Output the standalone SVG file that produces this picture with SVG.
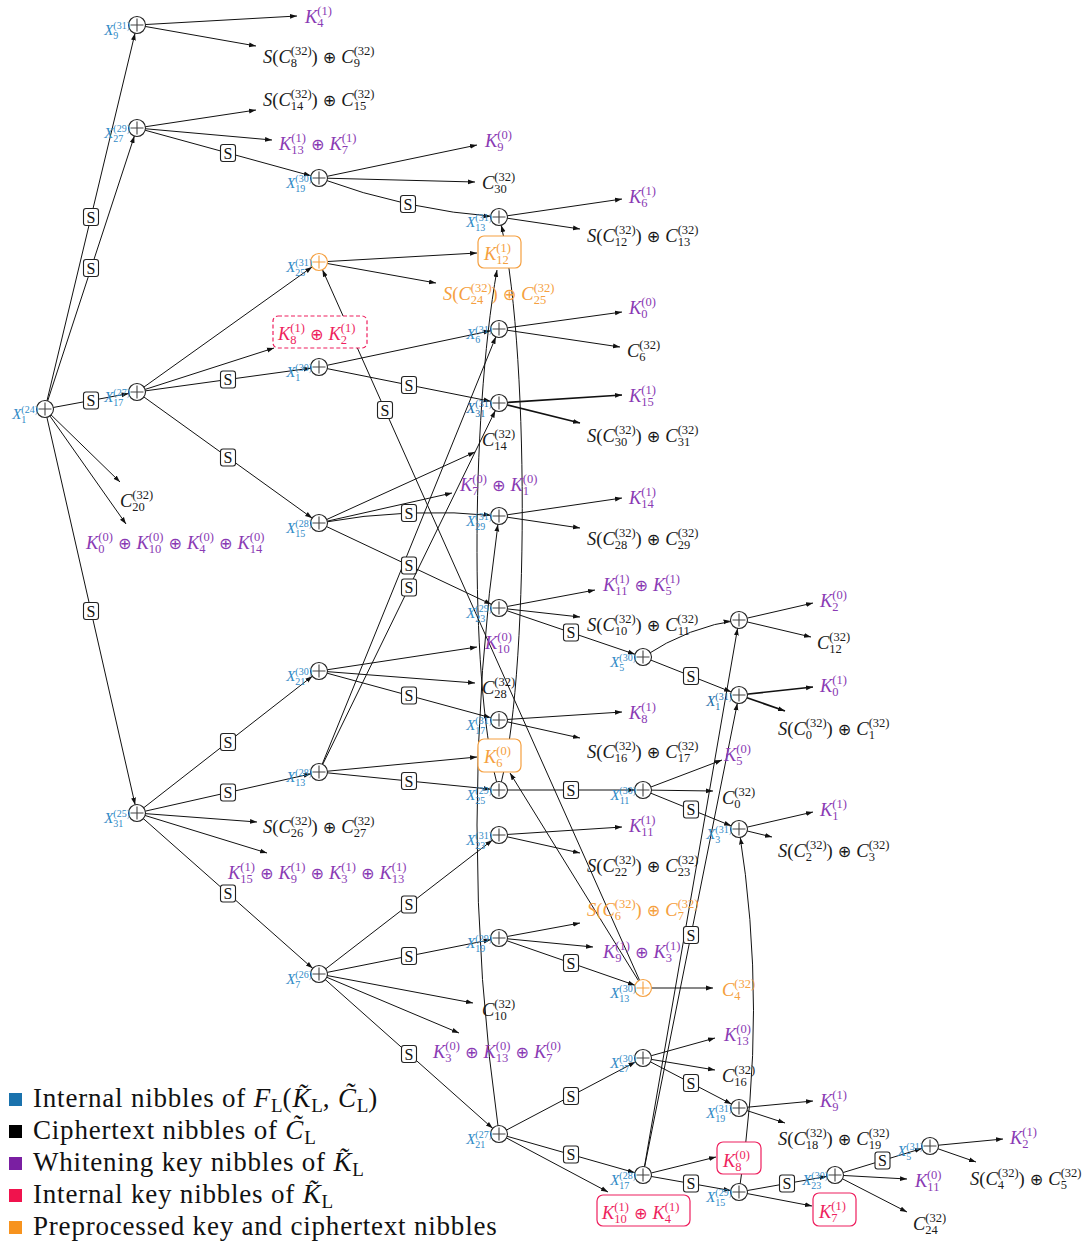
<svg xmlns="http://www.w3.org/2000/svg" width="1085" height="1244" viewBox="0 0 1085 1244">
<style>
.e{fill:none;stroke:#111;stroke-width:1}
.tk{stroke-width:1.7}
.a{marker-end:url(#ah)}
.n{marker-end:url(#an)}
.t{font-family:"Liberation Serif","DejaVu Serif",serif;font-size:18.5px;fill:#1a1a1a}
.i{font-style:italic}
.sc{font-size:12.5px;font-style:normal}
.op{font-family:"DejaVu Sans",sans-serif;font-size:16px;font-style:normal}
.p{fill:#8a3ab4}
.o{fill:#f5a040}
.r{fill:#ee1f5e}
.xl{font-family:"Liberation Serif","DejaVu Serif",serif;font-size:15px;font-style:italic;fill:#2f8ac6;text-anchor:end}
.dk{fill:#1c6ea8}
.xs{font-size:10px;font-style:normal}
.lg{font-family:"Liberation Serif","DejaVu Serif",serif;font-size:27px;letter-spacing:0.8px;fill:#111}
.ls{font-size:19px;font-style:normal;letter-spacing:0}
.kb{fill:#fff;stroke-width:1.2}
</style>
<defs>
<marker id="ah" markerUnits="userSpaceOnUse" markerWidth="10" markerHeight="8" viewBox="0 -4 10 8" refX="7" refY="0" orient="auto"><path d="M0,-2.4 L7,0 L0,2.4 z" fill="#111"/></marker>
<marker id="an" markerUnits="userSpaceOnUse" markerWidth="10" markerHeight="8" viewBox="0 -4 10 8" refX="15.5" refY="0" orient="auto"><path d="M0,-2.4 L7,0 L0,2.4 z" fill="#111"/></marker>
<g id="xor"><circle r="8.5" fill="#fff" stroke="#222" stroke-width="1.1"/><path d="M-6.5,0H6.5M0,-6.5V6.5" stroke="#444" stroke-width="1.1"/></g>
<g id="xoro"><circle r="8.5" fill="#fff" stroke="#f5a040" stroke-width="1.2"/><path d="M-6.5,0H6.5M0,-6.5V6.5" stroke="#f5a040" stroke-width="1.1"/></g>
<g id="sb"><rect x="-7.5" y="-8.5" width="15" height="17" rx="2.5" fill="#fff" stroke="#222" stroke-width="1.1"/><text y="5.5" text-anchor="middle" font-family="Liberation Serif, DejaVu Serif, serif" font-size="16" fill="#111">S</text></g>
</defs>

<!-- edges between nodes and towards leaves -->
<g id="connectors">
<path class="e n" d="M45,409 L137,25"/>
<path class="e n" d="M45,409 L137,128"/>
<path class="e n" d="M45,409 L137,392"/>
<path class="e n" d="M45,409 L137,813"/>
<path class="e a" d="M45,409 L120,482"/>
<path class="e a" d="M45,409 L126,524"/>
<path class="e a" d="M137,25 L297,16"/>
<path class="e a" d="M137,25 L256,46"/>
<path class="e a" d="M137,128 L256,110"/>
<path class="e a" d="M137,128 L272,140"/>
<path class="e n" d="M137,128 L319,178"/>
<path class="e n" d="M137,392 L319,262"/>
<path class="e a" d="M137,392 L274,348"/>
<path class="e n" d="M137,392 L319,367"/>
<path class="e n" d="M137,392 L319,523"/>
<path class="e n" d="M137,813 L319,671"/>
<path class="e n" d="M137,813 L319,772"/>
<path class="e a" d="M137,813 L257,822"/>
<path class="e a" d="M137,813 L267,853"/>
<path class="e n" d="M137,813 L319,974"/>
<path class="e a" d="M319,178 L477,145"/>
<path class="e a" d="M319,178 L475,182"/>
<path class="e n" d="M319,178 Q407,210.5 499,217"/>
<path class="e a" d="M319,262 L477,253"/>
<path class="e a" d="M319,262 L436,283"/>
<path class="e n" d="M319,367 L499,329"/>
<path class="e n" d="M319,367 L499,403"/>
<path class="e a" d="M319,523 L475,452"/>
<path class="e a" d="M319,523 L452,493"/>
<path class="e n" d="M319,523 Q409,506.5 499,516"/>
<path class="e n" d="M319,523 L499,608"/>
<path class="e a" d="M319,671 L477,647"/>
<path class="e a" d="M319,671 L475,683"/>
<path class="e n" d="M319,671 L499,720"/>
<path class="e n" d="M319,772 L499,329"/>
<path class="e n" d="M319,772 L499,403"/>
<path class="e a" d="M319,772 L477,757"/>
<path class="e n" d="M319,772 L499,790"/>
<path class="e n" d="M319,974 L499,835"/>
<path class="e n" d="M319,974 L499,938"/>
<path class="e a" d="M319,974 L473,1003"/>
<path class="e a" d="M319,974 L459,1033"/>
<path class="e n" d="M319,974 L499,1134"/>
<path class="e a" d="M499,217 L622,199"/>
<path class="e a" d="M499,217 L580,229"/>
<path class="e a" d="M499,329 L622,312"/>
<path class="e a" d="M499,329 L620,347"/>
<path class="e a tk" d="M499,403 L622,395"/>
<path class="e a tk" d="M499,403 L580,423"/>
<path class="e a" d="M499,516 L622,498"/>
<path class="e a" d="M499,516 L580,528"/>
<path class="e a" d="M499,608 L595,590"/>
<path class="e a" d="M499,608 L580,617"/>
<path class="e n" d="M499,608 L643,657"/>
<path class="e a" d="M499,720 L622,712"/>
<path class="e a" d="M499,720 L580,738"/>
<path class="e n" d="M499,790 L643,790"/>
<path class="e a" d="M499,790 C470,700 470,420 497,270"/>
<path class="e n" d="M499,790 C530,690 530,330 499,217"/>
<path class="e a" d="M499,835 L622,827"/>
<path class="e a" d="M499,835 L580,853"/>
<path class="e a" d="M499,938 L580,923"/>
<path class="e a" d="M499,938 L593,947"/>
<path class="e n" d="M499,938 L643,988"/>
<path class="e n" d="M499,1134 L643,1058"/>
<path class="e n" d="M499,1134 L643,1175"/>
<path class="e a" d="M499,1134 L608,1192"/>
<path class="e n" d="M499,1134 Q455,825 499,516"/>
<path class="e n" d="M643,657 Q690,626 739,620"/>
<path class="e n" d="M643,657 L739,695"/>
<path class="e a" d="M643,790 L722,760"/>
<path class="e a" d="M643,790 L713,791"/>
<path class="e n" d="M643,790 L739,829"/>
<path class="e a" d="M643,988 L713,988"/>
<path class="e n" d="M643,988 L319,262"/>
<path class="e a" d="M643,988 L510,773"/>
<path class="e a" d="M643,1058 L715,1038"/>
<path class="e a" d="M643,1058 L715,1070"/>
<path class="e n" d="M643,1058 L739,1108"/>
<path class="e a" d="M643,1175 L716,1157"/>
<path class="e n" d="M643,1175 L739,1192"/>
<path class="e n" d="M643,1175 L739,620"/>
<path class="e n" d="M643,1175 L739,695"/>
<path class="e a" d="M739,620 L813,603"/>
<path class="e a" d="M739,620 L811,637"/>
<path class="e a tk" d="M739,695 L813,687"/>
<path class="e a tk" d="M739,695 L785,711"/>
<path class="e a" d="M739,829 L813,812"/>
<path class="e a" d="M739,829 L772,837"/>
<path class="e a" d="M739,1108 L813,1101"/>
<path class="e a" d="M739,1108 L785,1123"/>
<path class="e a" d="M739,1192 L812,1206"/>
<path class="e n" d="M739,1192 L835,1175"/>
<path class="e n" d="M739,1192 Q768,1010 739,829"/>
<path class="e n" d="M835,1175 L930,1146"/>
<path class="e a" d="M835,1175 L907,1179"/>
<path class="e a" d="M835,1175 L907,1212"/>
<path class="e a" d="M930,1146 L1003,1139"/>
<path class="e a" d="M930,1146 L976,1162"/>
</g>

<!-- S-box applications sitting on edges -->
<g id="sboxes">
<use href="#sb" x="91" y="217"/><use href="#sb" x="91" y="268"/><use href="#sb" x="91" y="400.5"/><use href="#sb" x="91" y="611"/>
<use href="#sb" x="228" y="153"/><use href="#sb" x="228" y="379.5"/><use href="#sb" x="228" y="457.5"/>
<use href="#sb" x="228" y="742"/><use href="#sb" x="228" y="792.5"/><use href="#sb" x="228" y="893.5"/>
<use href="#sb" x="408" y="204"/><use href="#sb" x="385" y="410"/><use href="#sb" x="409" y="385"/>
<use href="#sb" x="409" y="513"/><use href="#sb" x="409" y="565.5"/><use href="#sb" x="409" y="587.5"/>
<use href="#sb" x="409" y="695.5"/><use href="#sb" x="409" y="781"/><use href="#sb" x="409" y="904.5"/>
<use href="#sb" x="409" y="956"/><use href="#sb" x="409" y="1054"/>
<use href="#sb" x="571" y="632.5"/><use href="#sb" x="571" y="790"/><use href="#sb" x="571" y="963"/>
<use href="#sb" x="571" y="1096"/><use href="#sb" x="571" y="1154.5"/>
<use href="#sb" x="691" y="676"/><use href="#sb" x="691" y="809.5"/><use href="#sb" x="691" y="935"/>
<use href="#sb" x="691" y="1083"/><use href="#sb" x="691" y="1183.5"/>
<use href="#sb" x="787" y="1183.5"/><use href="#sb" x="882.5" y="1160.5"/>
</g>

<!-- XOR nodes -->
<g id="n-x1-24"><use href="#xor" x="45" y="409"/><text class="xl" x="38" y="419">X<tspan class="xs" dy="3.5">1</tspan><tspan class="xs" dx="-5" dy="-9.5">(24)</tspan></text></g>
<g id="n-x9-31"><use href="#xor" x="137" y="25"/><text class="xl" x="130" y="35">X<tspan class="xs" dy="3.5">9</tspan><tspan class="xs" dx="-5" dy="-9.5">(31)</tspan></text></g>
<g id="n-x27-29"><use href="#xor" x="137" y="128"/><text class="xl" x="130" y="138">X<tspan class="xs" dy="3.5">27</tspan><tspan class="xs" dx="-10" dy="-9.5">(29)</tspan></text></g>
<g id="n-x17-27"><use href="#xor" x="137" y="392"/><text class="xl" x="130" y="402">X<tspan class="xs" dy="3.5">17</tspan><tspan class="xs" dx="-10" dy="-9.5">(27)</tspan></text></g>
<g id="n-x31-25"><use href="#xor" x="137" y="813"/><text class="xl" x="130" y="823">X<tspan class="xs" dy="3.5">31</tspan><tspan class="xs" dx="-10" dy="-9.5">(25)</tspan></text></g>
<g id="n-x19-30"><use href="#xor" x="319" y="178"/><text class="xl" x="312" y="188">X<tspan class="xs" dy="3.5">19</tspan><tspan class="xs" dx="-10" dy="-9.5">(30)</tspan></text></g>
<g id="n-x25-31"><use href="#xoro" x="319" y="262"/><text class="xl" x="312" y="272">X<tspan class="xs" dy="3.5">25</tspan><tspan class="xs" dx="-10" dy="-9.5">(31)</tspan></text></g>
<g id="n-x1-30"><use href="#xor" x="319" y="367"/><text class="xl" x="312" y="377">X<tspan class="xs" dy="3.5">1</tspan><tspan class="xs" dx="-5" dy="-9.5">(30)</tspan></text></g>
<g id="n-x15-28"><use href="#xor" x="319" y="523"/><text class="xl" x="312" y="533">X<tspan class="xs" dy="3.5">15</tspan><tspan class="xs" dx="-10" dy="-9.5">(28)</tspan></text></g>
<g id="n-x21-30"><use href="#xor" x="319" y="671"/><text class="xl" x="312" y="681">X<tspan class="xs" dy="3.5">21</tspan><tspan class="xs" dx="-10" dy="-9.5">(30)</tspan></text></g>
<g id="n-x13-28"><use href="#xor" x="319" y="772"/><text class="xl" x="312" y="782">X<tspan class="xs" dy="3.5">13</tspan><tspan class="xs" dx="-10" dy="-9.5">(28)</tspan></text></g>
<g id="n-x7-26"><use href="#xor" x="319" y="974"/><text class="xl" x="312" y="984">X<tspan class="xs" dy="3.5">7</tspan><tspan class="xs" dx="-5" dy="-9.5">(26)</tspan></text></g>
<g id="n-x13-31"><use href="#xor" x="499" y="217"/><text class="xl" x="492" y="227">X<tspan class="xs" dy="3.5">13</tspan><tspan class="xs" dx="-10" dy="-9.5">(31)</tspan></text></g>
<g id="n-x6-31"><use href="#xor" x="499" y="329"/><text class="xl" x="492" y="339">X<tspan class="xs" dy="3.5">6</tspan><tspan class="xs" dx="-5" dy="-9.5">(31)</tspan></text></g>
<g id="n-x31-31"><use href="#xor" x="499" y="403"/><text class="xl dk" x="492" y="413">X<tspan class="xs" dy="3.5">31</tspan><tspan class="xs" dx="-10" dy="-9.5">(31)</tspan></text></g>
<g id="n-x29-31"><use href="#xor" x="499" y="516"/><text class="xl" x="492" y="526">X<tspan class="xs" dy="3.5">29</tspan><tspan class="xs" dx="-10" dy="-9.5">(31)</tspan></text></g>
<g id="n-x23-29"><use href="#xor" x="499" y="608"/><text class="xl" x="492" y="618">X<tspan class="xs" dy="3.5">23</tspan><tspan class="xs" dx="-10" dy="-9.5">(29)</tspan></text></g>
<g id="n-x17-31"><use href="#xor" x="499" y="720"/><text class="xl" x="492" y="730">X<tspan class="xs" dy="3.5">17</tspan><tspan class="xs" dx="-10" dy="-9.5">(31)</tspan></text></g>
<g id="n-x25-29"><use href="#xor" x="499" y="790"/><text class="xl" x="492" y="800">X<tspan class="xs" dy="3.5">25</tspan><tspan class="xs" dx="-10" dy="-9.5">(29)</tspan></text></g>
<g id="n-x23-31"><use href="#xor" x="499" y="835"/><text class="xl" x="492" y="845">X<tspan class="xs" dy="3.5">23</tspan><tspan class="xs" dx="-10" dy="-9.5">(31)</tspan></text></g>
<g id="n-x19-29"><use href="#xor" x="499" y="938"/><text class="xl" x="492" y="948">X<tspan class="xs" dy="3.5">19</tspan><tspan class="xs" dx="-10" dy="-9.5">(29)</tspan></text></g>
<g id="n-x21-27"><use href="#xor" x="499" y="1134"/><text class="xl" x="492" y="1144">X<tspan class="xs" dy="3.5">21</tspan><tspan class="xs" dx="-10" dy="-9.5">(27)</tspan></text></g>
<g id="n-x5-30"><use href="#xor" x="643" y="657"/><text class="xl" x="636" y="667">X<tspan class="xs" dy="3.5">5</tspan><tspan class="xs" dx="-5" dy="-9.5">(30)</tspan></text></g>
<g id="n-x11-30"><use href="#xor" x="643" y="790"/><text class="xl" x="636" y="800">X<tspan class="xs" dy="3.5">11</tspan><tspan class="xs" dx="-10" dy="-9.5">(30)</tspan></text></g>
<g id="n-x13-30"><use href="#xoro" x="643" y="988"/><text class="xl" x="636" y="998">X<tspan class="xs" dy="3.5">13</tspan><tspan class="xs" dx="-10" dy="-9.5">(30)</tspan></text></g>
<g id="n-x27-30"><use href="#xor" x="643" y="1058"/><text class="xl" x="636" y="1068">X<tspan class="xs" dy="3.5">27</tspan><tspan class="xs" dx="-10" dy="-9.5">(30)</tspan></text></g>
<g id="n-x17-28"><use href="#xor" x="643" y="1175"/><text class="xl" x="636" y="1185">X<tspan class="xs" dy="3.5">17</tspan><tspan class="xs" dx="-10" dy="-9.5">(28)</tspan></text></g>
<g id="n-x12-31"><use href="#xor" x="739" y="620"/></g>
<g id="n-x1-31"><use href="#xor" x="739" y="695"/><text class="xl dk" x="732" y="706">X<tspan class="xs" dy="3.5">1</tspan><tspan class="xs" dx="-5" dy="-9.5">(31)</tspan></text></g>
<g id="n-x3-31"><use href="#xor" x="739" y="829"/><text class="xl" x="732" y="839">X<tspan class="xs" dy="3.5">3</tspan><tspan class="xs" dx="-5" dy="-9.5">(31)</tspan></text></g>
<g id="n-x19-31"><use href="#xor" x="739" y="1108"/><text class="xl" x="732" y="1118">X<tspan class="xs" dy="3.5">19</tspan><tspan class="xs" dx="-10" dy="-9.5">(31)</tspan></text></g>
<g id="n-x15-29"><use href="#xor" x="739" y="1192"/><text class="xl" x="732" y="1202">X<tspan class="xs" dy="3.5">15</tspan><tspan class="xs" dx="-10" dy="-9.5">(29)</tspan></text></g>
<g id="n-x23-30"><use href="#xor" x="835" y="1175"/><text class="xl" x="828" y="1185">X<tspan class="xs" dy="3.5">23</tspan><tspan class="xs" dx="-10" dy="-9.5">(30)</tspan></text></g>
<g id="n-x5-31"><use href="#xor" x="930" y="1146"/><text class="xl" x="923" y="1156">X<tspan class="xs" dy="3.5">5</tspan><tspan class="xs" dx="-5" dy="-9.5">(31)</tspan></text></g>

<!-- key boxes -->
<g id="k-k12-1"><rect class="kb" x="478" y="236" width="43" height="32" rx="6" stroke="#f5a040"/><text class="t o" x="484" y="260"><tspan class="i">K</tspan><tspan class="sc" dy="4">12</tspan><tspan class="sc" dx="-12.5" dy="-12">(1)</tspan></text></g>
<g id="k-k6-0"><rect class="kb" x="478" y="739" width="43" height="33" rx="6" stroke="#f5a040"/><text class="t o" x="484" y="763"><tspan class="i">K</tspan><tspan class="sc" dy="4">6</tspan><tspan class="sc" dx="-6.25" dy="-12">(0)</tspan></text></g>
<g id="k-k8k2-1"><rect class="kb" x="273" y="316" width="94" height="32" rx="5" stroke="#ee1f5e" stroke-dasharray="4 2.5"/><text class="t r" x="278" y="340"><tspan class="i">K</tspan><tspan class="sc" dy="4">8</tspan><tspan class="sc" dx="-6.25" dy="-12">(1)</tspan><tspan class="op" dy="8"> ⊕ </tspan><tspan class="i">K</tspan><tspan class="sc" dy="4">2</tspan><tspan class="sc" dx="-6.25" dy="-12">(1)</tspan></text></g>
<g id="k-k8-0"><rect class="kb" x="717" y="1142" width="44" height="32" rx="6" stroke="#ee1f5e"/><text class="t r" x="723" y="1167"><tspan class="i">K</tspan><tspan class="sc" dy="4">8</tspan><tspan class="sc" dx="-6.25" dy="-12">(0)</tspan></text></g>
<g id="k-k7-1"><rect class="kb" x="813" y="1193" width="43" height="33" rx="6" stroke="#ee1f5e"/><text class="t r" x="819" y="1218"><tspan class="i">K</tspan><tspan class="sc" dy="4">7</tspan><tspan class="sc" dx="-6.25" dy="-12">(1)</tspan></text></g>
<g id="k-k10k4-1"><rect class="kb" x="597" y="1195" width="93" height="31" rx="6" stroke="#ee1f5e"/><text class="t r" x="602" y="1219"><tspan class="i">K</tspan><tspan class="sc" dy="4">10</tspan><tspan class="sc" dx="-12.5" dy="-12">(1)</tspan><tspan class="op" dy="8"> ⊕ </tspan><tspan class="i">K</tspan><tspan class="sc" dy="4">4</tspan><tspan class="sc" dx="-6.25" dy="-12">(1)</tspan></text></g>

<!-- leaf values: ciphertext and whitening key nibbles -->
<g id="leaves">
<text id="lf-k4-1" class="t p" x="305" y="23"><tspan class="i">K</tspan><tspan class="sc" dy="4">4</tspan><tspan class="sc" dx="-6.25" dy="-12">(1)</tspan></text>
<text id="lf-sc8" class="t" x="263" y="63"><tspan class="i">S</tspan>(<tspan class="i">C</tspan><tspan class="sc" dy="4">8</tspan><tspan class="sc" dx="-6.25" dy="-12">(32)</tspan><tspan dy="8">)</tspan><tspan class="op"> ⊕ </tspan><tspan class="i">C</tspan><tspan class="sc" dy="4">9</tspan><tspan class="sc" dx="-6.25" dy="-12">(32)</tspan></text>
<text id="lf-sc14" class="t" x="263" y="106"><tspan class="i">S</tspan>(<tspan class="i">C</tspan><tspan class="sc" dy="4">14</tspan><tspan class="sc" dx="-12.5" dy="-12">(32)</tspan><tspan dy="8">)</tspan><tspan class="op"> ⊕ </tspan><tspan class="i">C</tspan><tspan class="sc" dy="4">15</tspan><tspan class="sc" dx="-12.5" dy="-12">(32)</tspan></text>
<text id="lf-k13k7-1" class="t p" x="279" y="150"><tspan class="i">K</tspan><tspan class="sc" dy="4">13</tspan><tspan class="sc" dx="-12.5" dy="-12">(1)</tspan><tspan class="op" dy="8"> ⊕ </tspan><tspan class="i">K</tspan><tspan class="sc" dy="4">7</tspan><tspan class="sc" dx="-6.25" dy="-12">(1)</tspan></text>
<text id="lf-k9-0" class="t p" x="485" y="147"><tspan class="i">K</tspan><tspan class="sc" dy="4">9</tspan><tspan class="sc" dx="-6.25" dy="-12">(0)</tspan></text>
<text id="lf-c30" class="t" x="482" y="189"><tspan class="i">C</tspan><tspan class="sc" dy="4">30</tspan><tspan class="sc" dx="-12.5" dy="-12">(32)</tspan></text>
<text id="lf-k6-1" class="t p" x="629" y="203"><tspan class="i">K</tspan><tspan class="sc" dy="4">6</tspan><tspan class="sc" dx="-6.25" dy="-12">(1)</tspan></text>
<text id="lf-sc12" class="t" x="587" y="242"><tspan class="i">S</tspan>(<tspan class="i">C</tspan><tspan class="sc" dy="4">12</tspan><tspan class="sc" dx="-12.5" dy="-12">(32)</tspan><tspan dy="8">)</tspan><tspan class="op"> ⊕ </tspan><tspan class="i">C</tspan><tspan class="sc" dy="4">13</tspan><tspan class="sc" dx="-12.5" dy="-12">(32)</tspan></text>
<text id="lf-sc24" class="t o" x="443" y="300"><tspan class="i">S</tspan>(<tspan class="i">C</tspan><tspan class="sc" dy="4">24</tspan><tspan class="sc" dx="-12.5" dy="-12">(32)</tspan><tspan dy="8">)</tspan><tspan class="op"> ⊕ </tspan><tspan class="i">C</tspan><tspan class="sc" dy="4">25</tspan><tspan class="sc" dx="-12.5" dy="-12">(32)</tspan></text>
<text id="lf-k0-0" class="t p" x="629" y="314"><tspan class="i">K</tspan><tspan class="sc" dy="4">0</tspan><tspan class="sc" dx="-6.25" dy="-12">(0)</tspan></text>
<text id="lf-c6" class="t" x="627" y="357"><tspan class="i">C</tspan><tspan class="sc" dy="4">6</tspan><tspan class="sc" dx="-6.25" dy="-12">(32)</tspan></text>
<text id="lf-k15-1" class="t p" x="629" y="402"><tspan class="i">K</tspan><tspan class="sc" dy="4">15</tspan><tspan class="sc" dx="-12.5" dy="-12">(1)</tspan></text>
<text id="lf-sc30" class="t" x="587" y="442"><tspan class="i">S</tspan>(<tspan class="i">C</tspan><tspan class="sc" dy="4">30</tspan><tspan class="sc" dx="-12.5" dy="-12">(32)</tspan><tspan dy="8">)</tspan><tspan class="op"> ⊕ </tspan><tspan class="i">C</tspan><tspan class="sc" dy="4">31</tspan><tspan class="sc" dx="-12.5" dy="-12">(32)</tspan></text>
<text id="lf-c14" class="t" x="482" y="446"><tspan class="i">C</tspan><tspan class="sc" dy="4">14</tspan><tspan class="sc" dx="-12.5" dy="-12">(32)</tspan></text>
<text id="lf-k7k1-0" class="t p" x="460" y="491"><tspan class="i">K</tspan><tspan class="sc" dy="4">7</tspan><tspan class="sc" dx="-6.25" dy="-12">(0)</tspan><tspan class="op" dy="8"> ⊕ </tspan><tspan class="i">K</tspan><tspan class="sc" dy="4">1</tspan><tspan class="sc" dx="-6.25" dy="-12">(0)</tspan></text>
<text id="lf-k14-1" class="t p" x="629" y="504"><tspan class="i">K</tspan><tspan class="sc" dy="4">14</tspan><tspan class="sc" dx="-12.5" dy="-12">(1)</tspan></text>
<text id="lf-sc28" class="t" x="587" y="545"><tspan class="i">S</tspan>(<tspan class="i">C</tspan><tspan class="sc" dy="4">28</tspan><tspan class="sc" dx="-12.5" dy="-12">(32)</tspan><tspan dy="8">)</tspan><tspan class="op"> ⊕ </tspan><tspan class="i">C</tspan><tspan class="sc" dy="4">29</tspan><tspan class="sc" dx="-12.5" dy="-12">(32)</tspan></text>
<text id="lf-k11k5-1" class="t p" x="603" y="591"><tspan class="i">K</tspan><tspan class="sc" dy="4">11</tspan><tspan class="sc" dx="-12.5" dy="-12">(1)</tspan><tspan class="op" dy="8"> ⊕ </tspan><tspan class="i">K</tspan><tspan class="sc" dy="4">5</tspan><tspan class="sc" dx="-6.25" dy="-12">(1)</tspan></text>
<text id="lf-sc10" class="t" x="587" y="631"><tspan class="i">S</tspan>(<tspan class="i">C</tspan><tspan class="sc" dy="4">10</tspan><tspan class="sc" dx="-12.5" dy="-12">(32)</tspan><tspan dy="8">)</tspan><tspan class="op"> ⊕ </tspan><tspan class="i">C</tspan><tspan class="sc" dy="4">11</tspan><tspan class="sc" dx="-12.5" dy="-12">(32)</tspan></text>
<text id="lf-k2-0" class="t p" x="820" y="607"><tspan class="i">K</tspan><tspan class="sc" dy="4">2</tspan><tspan class="sc" dx="-6.25" dy="-12">(0)</tspan></text>
<text id="lf-c12" class="t" x="817" y="649"><tspan class="i">C</tspan><tspan class="sc" dy="4">12</tspan><tspan class="sc" dx="-12.5" dy="-12">(32)</tspan></text>
<text id="lf-k0-1" class="t p" x="820" y="692"><tspan class="i">K</tspan><tspan class="sc" dy="4">0</tspan><tspan class="sc" dx="-6.25" dy="-12">(1)</tspan></text>
<text id="lf-sc0" class="t" x="778" y="735"><tspan class="i">S</tspan>(<tspan class="i">C</tspan><tspan class="sc" dy="4">0</tspan><tspan class="sc" dx="-6.25" dy="-12">(32)</tspan><tspan dy="8">)</tspan><tspan class="op"> ⊕ </tspan><tspan class="i">C</tspan><tspan class="sc" dy="4">1</tspan><tspan class="sc" dx="-6.25" dy="-12">(32)</tspan></text>
<text id="lf-k5-0" class="t p" x="724" y="761"><tspan class="i">K</tspan><tspan class="sc" dy="4">5</tspan><tspan class="sc" dx="-6.25" dy="-12">(0)</tspan></text>
<text id="lf-c0" class="t" x="722" y="804"><tspan class="i">C</tspan><tspan class="sc" dy="4">0</tspan><tspan class="sc" dx="-6.25" dy="-12">(32)</tspan></text>
<text id="lf-k1-1" class="t p" x="820" y="816"><tspan class="i">K</tspan><tspan class="sc" dy="4">1</tspan><tspan class="sc" dx="-6.25" dy="-12">(1)</tspan></text>
<text id="lf-sc2" class="t" x="778" y="857"><tspan class="i">S</tspan>(<tspan class="i">C</tspan><tspan class="sc" dy="4">2</tspan><tspan class="sc" dx="-6.25" dy="-12">(32)</tspan><tspan dy="8">)</tspan><tspan class="op"> ⊕ </tspan><tspan class="i">C</tspan><tspan class="sc" dy="4">3</tspan><tspan class="sc" dx="-6.25" dy="-12">(32)</tspan></text>
<text id="lf-k8-1" class="t p" x="629" y="719"><tspan class="i">K</tspan><tspan class="sc" dy="4">8</tspan><tspan class="sc" dx="-6.25" dy="-12">(1)</tspan></text>
<text id="lf-sc16" class="t" x="587" y="758"><tspan class="i">S</tspan>(<tspan class="i">C</tspan><tspan class="sc" dy="4">16</tspan><tspan class="sc" dx="-12.5" dy="-12">(32)</tspan><tspan dy="8">)</tspan><tspan class="op"> ⊕ </tspan><tspan class="i">C</tspan><tspan class="sc" dy="4">17</tspan><tspan class="sc" dx="-12.5" dy="-12">(32)</tspan></text>
<text id="lf-k10-0" class="t p" x="485" y="649"><tspan class="i">K</tspan><tspan class="sc" dy="4">10</tspan><tspan class="sc" dx="-12.5" dy="-12">(0)</tspan></text>
<text id="lf-c28" class="t" x="482" y="694"><tspan class="i">C</tspan><tspan class="sc" dy="4">28</tspan><tspan class="sc" dx="-12.5" dy="-12">(32)</tspan></text>
<text id="lf-k11-1" class="t p" x="629" y="832"><tspan class="i">K</tspan><tspan class="sc" dy="4">11</tspan><tspan class="sc" dx="-12.5" dy="-12">(1)</tspan></text>
<text id="lf-sc22" class="t" x="587" y="872"><tspan class="i">S</tspan>(<tspan class="i">C</tspan><tspan class="sc" dy="4">22</tspan><tspan class="sc" dx="-12.5" dy="-12">(32)</tspan><tspan dy="8">)</tspan><tspan class="op"> ⊕ </tspan><tspan class="i">C</tspan><tspan class="sc" dy="4">23</tspan><tspan class="sc" dx="-12.5" dy="-12">(32)</tspan></text>
<text id="lf-sc6" class="t o" x="587" y="916"><tspan class="i">S</tspan>(<tspan class="i">C</tspan><tspan class="sc" dy="4">6</tspan><tspan class="sc" dx="-6.25" dy="-12">(32)</tspan><tspan dy="8">)</tspan><tspan class="op"> ⊕ </tspan><tspan class="i">C</tspan><tspan class="sc" dy="4">7</tspan><tspan class="sc" dx="-6.25" dy="-12">(32)</tspan></text>
<text id="lf-k9k3-1" class="t p" x="603" y="958"><tspan class="i">K</tspan><tspan class="sc" dy="4">9</tspan><tspan class="sc" dx="-6.25" dy="-12">(1)</tspan><tspan class="op" dy="8"> ⊕ </tspan><tspan class="i">K</tspan><tspan class="sc" dy="4">3</tspan><tspan class="sc" dx="-6.25" dy="-12">(1)</tspan></text>
<text id="lf-c4" class="t o" x="722" y="996"><tspan class="i">C</tspan><tspan class="sc" dy="4">4</tspan><tspan class="sc" dx="-6.25" dy="-12">(32)</tspan></text>
<text id="lf-c10" class="t" x="482" y="1016"><tspan class="i">C</tspan><tspan class="sc" dy="4">10</tspan><tspan class="sc" dx="-12.5" dy="-12">(32)</tspan></text>
<text id="lf-k3k13k7-0" class="t p" x="433" y="1058"><tspan class="i">K</tspan><tspan class="sc" dy="4">3</tspan><tspan class="sc" dx="-6.25" dy="-12">(0)</tspan><tspan class="op" dy="8"> ⊕ </tspan><tspan class="i">K</tspan><tspan class="sc" dy="4">13</tspan><tspan class="sc" dx="-12.5" dy="-12">(0)</tspan><tspan class="op" dy="8"> ⊕ </tspan><tspan class="i">K</tspan><tspan class="sc" dy="4">7</tspan><tspan class="sc" dx="-6.25" dy="-12">(0)</tspan></text>
<text id="lf-k13-0" class="t p" x="724" y="1041"><tspan class="i">K</tspan><tspan class="sc" dy="4">13</tspan><tspan class="sc" dx="-12.5" dy="-12">(0)</tspan></text>
<text id="lf-c16" class="t" x="722" y="1082"><tspan class="i">C</tspan><tspan class="sc" dy="4">16</tspan><tspan class="sc" dx="-12.5" dy="-12">(32)</tspan></text>
<text id="lf-k9-1" class="t p" x="820" y="1107"><tspan class="i">K</tspan><tspan class="sc" dy="4">9</tspan><tspan class="sc" dx="-6.25" dy="-12">(1)</tspan></text>
<text id="lf-sc18" class="t" x="778" y="1145"><tspan class="i">S</tspan>(<tspan class="i">C</tspan><tspan class="sc" dy="4">18</tspan><tspan class="sc" dx="-12.5" dy="-12">(32)</tspan><tspan dy="8">)</tspan><tspan class="op"> ⊕ </tspan><tspan class="i">C</tspan><tspan class="sc" dy="4">19</tspan><tspan class="sc" dx="-12.5" dy="-12">(32)</tspan></text>
<text id="lf-k2-1" class="t p" x="1010" y="1144"><tspan class="i">K</tspan><tspan class="sc" dy="4">2</tspan><tspan class="sc" dx="-6.25" dy="-12">(1)</tspan></text>
<text id="lf-sc4" class="t" x="970" y="1185"><tspan class="i">S</tspan>(<tspan class="i">C</tspan><tspan class="sc" dy="4">4</tspan><tspan class="sc" dx="-6.25" dy="-12">(32)</tspan><tspan dy="8">)</tspan><tspan class="op"> ⊕ </tspan><tspan class="i">C</tspan><tspan class="sc" dy="4">5</tspan><tspan class="sc" dx="-6.25" dy="-12">(32)</tspan></text>
<text id="lf-k11-0" class="t p" x="915" y="1187"><tspan class="i">K</tspan><tspan class="sc" dy="4">11</tspan><tspan class="sc" dx="-12.5" dy="-12">(0)</tspan></text>
<text id="lf-c24" class="t" x="913" y="1230"><tspan class="i">C</tspan><tspan class="sc" dy="4">24</tspan><tspan class="sc" dx="-12.5" dy="-12">(32)</tspan></text>
<text id="lf-c20" class="t" x="120" y="507"><tspan class="i">C</tspan><tspan class="sc" dy="4">20</tspan><tspan class="sc" dx="-12.5" dy="-12">(32)</tspan></text>
<text id="lf-k0k10k4k14-0" class="t p" x="86" y="549"><tspan class="i">K</tspan><tspan class="sc" dy="4">0</tspan><tspan class="sc" dx="-6.25" dy="-12">(0)</tspan><tspan class="op" dy="8"> ⊕ </tspan><tspan class="i">K</tspan><tspan class="sc" dy="4">10</tspan><tspan class="sc" dx="-12.5" dy="-12">(0)</tspan><tspan class="op" dy="8"> ⊕ </tspan><tspan class="i">K</tspan><tspan class="sc" dy="4">4</tspan><tspan class="sc" dx="-6.25" dy="-12">(0)</tspan><tspan class="op" dy="8"> ⊕ </tspan><tspan class="i">K</tspan><tspan class="sc" dy="4">14</tspan><tspan class="sc" dx="-12.5" dy="-12">(0)</tspan></text>
<text id="lf-sc26" class="t" x="263" y="833"><tspan class="i">S</tspan>(<tspan class="i">C</tspan><tspan class="sc" dy="4">26</tspan><tspan class="sc" dx="-12.5" dy="-12">(32)</tspan><tspan dy="8">)</tspan><tspan class="op"> ⊕ </tspan><tspan class="i">C</tspan><tspan class="sc" dy="4">27</tspan><tspan class="sc" dx="-12.5" dy="-12">(32)</tspan></text>
<text id="lf-k15k9k3k13-1" class="t p" x="228" y="879"><tspan class="i">K</tspan><tspan class="sc" dy="4">15</tspan><tspan class="sc" dx="-12.5" dy="-12">(1)</tspan><tspan class="op" dy="8"> ⊕ </tspan><tspan class="i">K</tspan><tspan class="sc" dy="4">9</tspan><tspan class="sc" dx="-6.25" dy="-12">(1)</tspan><tspan class="op" dy="8"> ⊕ </tspan><tspan class="i">K</tspan><tspan class="sc" dy="4">3</tspan><tspan class="sc" dx="-6.25" dy="-12">(1)</tspan><tspan class="op" dy="8"> ⊕ </tspan><tspan class="i">K</tspan><tspan class="sc" dy="4">13</tspan><tspan class="sc" dx="-12.5" dy="-12">(1)</tspan></text>
</g>

<!-- colour legend -->
<g id="legend">
<rect x="9" y="1093" width="13" height="13" fill="#1a72ad"/>
<text class="lg" x="33" y="1107">Internal nibbles of <tspan class="i">F</tspan><tspan class="ls" dy="5">L</tspan><tspan dy="-5">(</tspan><tspan class="i">K̃</tspan><tspan class="ls" dy="5">L</tspan><tspan dy="-5">, </tspan><tspan class="i">C̃</tspan><tspan class="ls" dy="5">L</tspan><tspan dy="-5">)</tspan></text>
<rect x="9" y="1125" width="13" height="13" fill="#000"/>
<text class="lg" x="33" y="1139">Ciphertext nibbles of <tspan class="i">C̃</tspan><tspan class="ls" dy="5">L</tspan></text>
<rect x="9" y="1157" width="13" height="13" fill="#7a1fa2"/>
<text class="lg" x="33" y="1171">Whitening key nibbles of <tspan class="i">K̃</tspan><tspan class="ls" dy="5">L</tspan></text>
<rect x="9" y="1189" width="13" height="13" fill="#f0134d"/>
<text class="lg" x="33" y="1203">Internal key nibbles of <tspan class="i">K̃</tspan><tspan class="ls" dy="5">L</tspan></text>
<rect x="9" y="1221" width="13" height="13" fill="#f7931e"/>
<text class="lg" x="33" y="1235">Preprocessed key and ciphertext nibbles</text>
</g>
</svg>
